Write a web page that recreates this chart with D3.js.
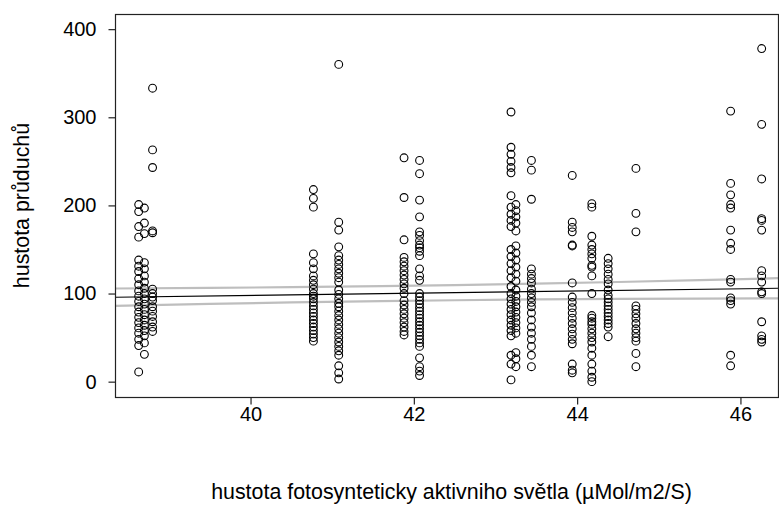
<!DOCTYPE html>
<html><head><meta charset="utf-8">
<script src="https://cdn.jsdelivr.net/npm/d3@7"></script>
<style>body{margin:0;background:#fff}svg{display:block}text{font-family:Arial,"Liberation Sans",sans-serif;fill:#000}</style>
</head><body>
<svg id="c" width="779" height="506"></svg>
<script>
const groupX = [38.63, 38.70, 38.80, 40.77, 41.08, 41.88, 42.07, 43.19, 43.25, 43.44, 43.94, 44.18, 44.38, 44.72, 45.88, 46.26];
const groupValues = [
  [201, 193, 176, 164, 138, 131, 125, 117, 110, 103, 97, 91, 85, 79, 73, 67, 61, 55, 48, 41, 11],
  [197, 180, 168, 135, 128, 120, 113, 106, 100, 94, 88, 82, 76, 70, 64, 58, 52, 44, 31],
  [333, 263, 243, 171, 169, 105, 100, 96, 92, 85, 80, 74, 68, 62, 57],
  [218, 208, 198, 145, 135, 128, 120, 115, 110, 105, 100, 97, 94, 90, 86, 82, 78, 74, 70, 66, 62, 58, 54, 50, 46],
  [360, 181, 172, 153, 143, 138, 133, 128, 123, 118, 113, 104, 99, 94, 89, 85, 80, 75, 70, 65, 60, 55, 50, 45, 40, 35, 30, 18, 10, 3],
  [254, 209, 161, 141, 136, 131, 126, 121, 116, 111, 106, 100, 92, 87, 82, 77, 72, 67, 62, 57, 53],
  [251, 236, 206, 187, 170, 166, 160, 155, 152, 148, 143, 128, 120, 115, 100, 96, 92, 88, 84, 80, 76, 72, 68, 64, 60, 56, 52, 48, 44, 40, 27, 17, 12, 7],
  [306, 266, 258, 250, 243, 237, 211, 198, 190, 183, 176, 150, 142, 134, 126, 118, 108, 100, 94, 88, 82, 76, 70, 64, 58, 52, 30, 20, 2],
  [201, 194, 187, 180, 171, 154, 146, 138, 130, 122, 114, 104, 97, 91, 85, 79, 73, 67, 61, 55, 33, 26, 17],
  [251, 240, 207, 128, 122, 117, 112, 105, 100, 95, 90, 85, 78, 70, 62, 55, 48, 40, 30, 17],
  [234, 181, 175, 170, 155, 154, 112, 96, 90, 84, 78, 72, 66, 60, 54, 48, 43, 20, 13, 10],
  [202, 198, 165, 155, 150, 145, 140, 132, 130, 120, 100, 75, 72, 68, 65, 60, 55, 50, 45, 38, 30, 20, 12, 5, 0],
  [140, 134, 128, 122, 116, 111, 104, 98, 94, 90, 86, 82, 78, 74, 70, 66, 62, 51],
  [242, 191, 170, 86, 82, 77, 72, 66, 60, 55, 50, 46, 32, 17],
  [307, 225, 212, 201, 197, 172, 157, 150, 116, 113, 95, 92, 88, 30, 18],
  [378, 292, 230, 185, 183, 172, 126, 120, 113, 102, 100, 68, 52, 48, 45]
];
// fitted line and confidence band
const fitX = [38.34, 46.46];
const fitY = [95.8, 106.0];
const bandX = [38.34, 39.5, 40.5, 41.6, 42.5, 43.5, 44.5, 45.5, 46.46];
const bandLower = [85.9, 88.2, 89.9, 91.4, 92.4, 93.3, 93.9, 94.3, 94.6];
const bandUpper = [105.7, 106.4, 107.2, 108.4, 109.6, 111.3, 113.1, 115.2, 117.4];
const xTicks = [40, 42, 44, 46];
const yTicks = [0, 100, 200, 300, 400];
const xTitle = "hustota fotosynteticky aktivniho světla (µMol/m2/S)";
const yTitle = "hustota průduchů";

const L = 115, R = 778, T = 14, B = 397;
const svg = d3.select("#c");
const x = d3.scaleLinear().domain([38.34, 46.46]).range([L, R]);
const y = d3.scaleLinear().domain([-17.4, 417.2]).range([B, T]);

const points = [];
groupX.forEach((gx, i) => groupValues[i].forEach(v => points.push([gx, v])));

svg.append("clipPath").attr("id", "pc").append("rect")
  .attr("x", L).attr("y", T).attr("width", R - L).attr("height", B - T);
const g = svg.append("g").attr("clip-path", "url(#pc)");

const line = d3.line().x(d => x(d[0])).y(d => y(d[1]));
g.append("path").datum(bandX.map((d, i) => [d, bandUpper[i]]))
  .attr("d", line).attr("fill", "none").attr("stroke", "#bebebe").attr("stroke-width", 2.2);
g.append("path").datum(bandX.map((d, i) => [d, bandLower[i]]))
  .attr("d", line).attr("fill", "none").attr("stroke", "#bebebe").attr("stroke-width", 2.2);
g.append("path").datum(fitX.map((d, i) => [d, fitY[i]]))
  .attr("d", line).attr("fill", "none").attr("stroke", "#000").attr("stroke-width", 1.1);

svg.append("g").selectAll("circle").data(points).join("circle")
  .attr("cx", d => x(d[0])).attr("cy", d => y(d[1])).attr("r", 3.9)
  .attr("fill", "none").attr("stroke", "#000").attr("stroke-width", 1.1);

svg.append("rect").attr("x", L + 0.5).attr("y", T + 0.5).attr("width", R - L).attr("height", B - T)
  .attr("fill", "none").attr("stroke", "#222").attr("stroke-width", 1.2);

const xa = svg.append("g").attr("transform", `translate(0,${B + 0.5})`)
  .call(d3.axisBottom(x).tickValues(xTicks).tickSize(7).tickPadding(2).tickFormat(d3.format("d")));
xa.select(".domain").remove();
const ya = svg.append("g").attr("transform", `translate(${L + 0.5},0)`)
  .call(d3.axisLeft(y).tickValues(yTicks).tickSize(7).tickPadding(12).tickFormat(d3.format("d")));
ya.select(".domain").remove();
svg.selectAll(".tick line").attr("stroke", "#222").attr("stroke-width", 1.2);
svg.selectAll(".tick text").attr("font-size", 20).attr("font-family", "Arial, 'Liberation Sans', sans-serif").attr("fill", "#000");

svg.append("text").attr("x", (L + R) / 2 + 5).attr("y", 499).attr("text-anchor", "middle")
  .attr("font-size", 21.4).text(xTitle);
svg.append("text").attr("transform", `translate(29,${(T + B) / 2}) rotate(-90)`).attr("text-anchor", "middle")
  .attr("font-size", 21.4).text(yTitle);
</script>
</body></html>
